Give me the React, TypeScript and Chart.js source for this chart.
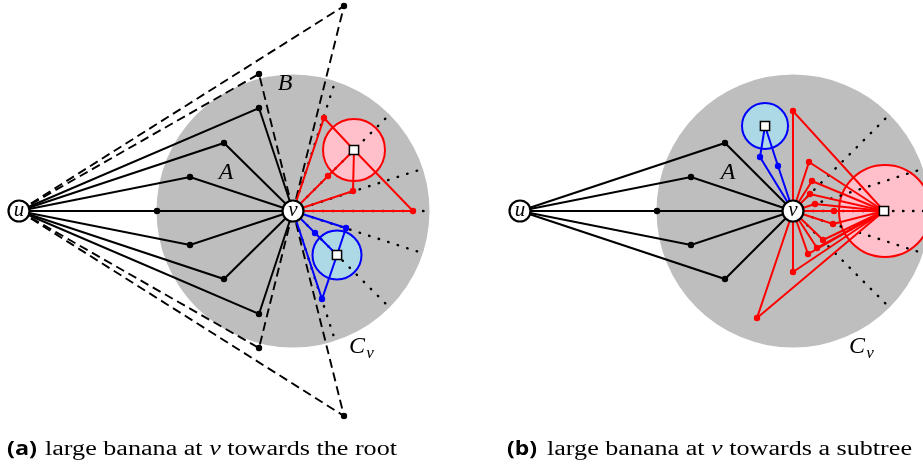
import React, { useEffect, useRef } from "react";
import { Chart, registerables } from "chart.js";

Chart.register(...registerables);

type P = [number, number];

const W = 923;
const H = 468;

// ---------- panel (a): large banana at v towards the root ----------
const aU: P = [19, 211];
const aV: P = [293, 211];
const aDiskR = 136.5;
const aTreeNodes: P[] = [[157, 211], [190, 177], [224, 143], [259, 108], [190, 245], [224, 279], [259, 314]];
const aDashedTips: P[] = [[259, 74], [344, 6], [259, 348], [344, 416]];
const aRayEnds: P[] = [[426, 211], [419, 170], [387, 117], [334, 85], [419, 252], [387, 305], [334, 337]];
const aRedSub: P = [354, 150];
const aRedR = 31;
const aRedNodes: P[] = [[324, 118], [328, 176], [353, 191], [413, 211]];
const aBlueSub: P = [337, 255];
const aBlueR = 24.5;
const aBlueNodes: P[] = [[315, 233], [346, 228], [322, 299]];

// ---------- panel (b): large banana at v towards a subtree ----------
const bU: P = [520, 211];
const bV: P = [793, 211];
const bDiskR = 136.5;
const bTreeNodes: P[] = [[657, 211], [691, 177], [725, 143], [691, 245], [725, 279]];
const bRayEnds: P[] = [[926, 211], [919, 170], [887, 117], [919, 252], [887, 305]];
const bRedSub: P = [884, 211];
const bRedCircleCenter: P = [885, 211];
const bRedR = 46;
const bRedNodes: P[] = [[793, 111], [809, 162], [812, 181], [810, 194], [815, 204], [834, 211], [833, 224], [823, 240], [817, 248], [808, 254], [793, 272], [757, 318]];
const bBlueSub: P = [765, 126];
const bBlueR = 23;
const bBlueNodes: P[] = [[760, 157], [778, 166]];

// ---------- labels ----------
const nodeLabels: { p: P; t: string }[] = [
  { p: aU, t: "u" }, { p: aV, t: "v" }, { p: bU, t: "u" }, { p: bV, t: "v" },
];
const setLabels: { p: P; t: string; sub?: string }[] = [
  { p: [226, 173], t: "A" },
  { p: [285, 84], t: "B" },
  { p: [357, 347], t: "C", sub: "v" },
  { p: [728, 173], t: "A" },
  { p: [857, 347], t: "C", sub: "v" },
];
const captionA = { tag: "(a)", before: "large banana at ", it: "v", after: " towards the root" };
const captionB = { tag: "(b)", before: "large banana at ", it: "v", after: " towards a subtree" };

const GREY = "#bebebe";
const RED = "#ff0000";
const BLUE = "#0000ff";

const pts = (l: P[]) => l.map(([x, y]) => ({ x, y }));

export default function App() {
  const ref = useRef<HTMLCanvasElement>(null);

  useEffect(() => {
    if (!ref.current) return;
    const ds: any[] = [];
    const line = (l: P[], color: string, width: number, dash: number[] = [], cap: CanvasLineCap = "butt") =>
      ds.push({
        data: pts(l), showLine: true, borderColor: color, borderWidth: width, borderDash: dash,
        borderCapStyle: cap, borderJoinStyle: "miter", pointRadius: 0, pointHoverRadius: 0, fill: false, clip: false, tension: 0,
      });
    const nodes = (l: P[], style: string, radius: number, bg: string, border: string, bw: number) =>
      ds.push({
        data: pts(l), showLine: false, pointStyle: style, pointRadius: radius, pointHoverRadius: radius,
        pointBackgroundColor: bg, pointBorderColor: border, pointBorderWidth: bw, backgroundColor: bg, borderColor: border, clip: false,
      });

    const DOT = [0.5, 9.5];
    const DASH = [9, 5];
    // dotted rays
    aRayEnds.forEach((e) => line([aV, e], "#000", 2.4, DOT, "round"));
    bRayEnds.forEach((e) => line([bV, e], "#000", 2.4, DOT, "round"));
    // dashed
    aDashedTips.forEach((t) => line([aU, t, aV], "#000", 1.9, DASH));
    // black tree
    aTreeNodes.forEach((n) => line([aU, n, aV], "#000", 2));
    bTreeNodes.forEach((n) => line([bU, n, bV], "#000", 2));
    // coloured
    aRedNodes.forEach((n) => line([aV, n, aRedSub], RED, 2));
    aBlueNodes.forEach((n) => line([aV, n, aBlueSub], BLUE, 2));
    bRedNodes.forEach((n) => line([bV, n, bRedSub], RED, 2));
    bBlueNodes.forEach((n) => line([bV, n, bBlueSub], BLUE, 2));
    // nodes
    nodes([...aTreeNodes, ...aDashedTips, ...bTreeNodes], "circle", 3.2, "#000", "#000", 0);
    nodes([...aRedNodes, ...bRedNodes], "circle", 3.2, RED, RED, 0);
    nodes([...aBlueNodes, ...bBlueNodes], "circle", 3.2, BLUE, BLUE, 0);
    nodes([aRedSub, aBlueSub, bRedSub, bBlueSub], "rect", 6.5, "#fff", "#000", 1.5);
    nodes([aU, aV, bU, bV], "circle", 10.5, "#fff", "#000", 2.2);

    const n = ds.length;
    ds.forEach((d, i) => (d.order = n - i));

    const disks: { c: P; r: number; fill: string; stroke?: string }[] = [
      { c: aV, r: aDiskR, fill: GREY },
      { c: bV, r: bDiskR, fill: GREY },
      { c: aRedSub, r: aRedR, fill: "#ffc0cb", stroke: RED },
      { c: aBlueSub, r: aBlueR, fill: "#add8e6", stroke: BLUE },
      { c: bRedCircleCenter, r: bRedR, fill: "#ffc0cb", stroke: RED },
      { c: bBlueSub, r: bBlueR, fill: "#add8e6", stroke: BLUE },
    ];

    const diagram = {
      id: "diagram",
      beforeDatasetsDraw(chart: any) {
        const { ctx, scales } = chart;
        const xs = scales.x, ys = scales.y;
        disks.forEach((d) => {
          const cx = xs.getPixelForValue(d.c[0]);
          const cy = ys.getPixelForValue(d.c[1]);
          const r = xs.getPixelForValue(d.c[0] + d.r) - cx;
          ctx.save();
          ctx.beginPath();
          ctx.arc(cx, cy, r, 0, Math.PI * 2);
          ctx.fillStyle = d.fill;
          ctx.fill();
          if (d.stroke) {
            ctx.strokeStyle = d.stroke;
            ctx.lineWidth = 2;
            ctx.stroke();
          }
          ctx.restore();
        });
      },
      afterDatasetsDraw(chart: any) {
        const { ctx, scales } = chart;
        const xs = scales.x, ys = scales.y;
        ctx.save();
        ctx.fillStyle = "#000";
        ctx.textAlign = "center";
        ctx.textBaseline = "middle";
        nodeLabels.forEach((l) => {
          ctx.font = 'italic 21px "Liberation Serif"';
          ctx.fillText(l.t, xs.getPixelForValue(l.p[0]), ys.getPixelForValue(l.p[1]) - 1);
        });
        setLabels.forEach((l) => {
          const x = xs.getPixelForValue(l.p[0]);
          const y = ys.getPixelForValue(l.p[1]);
          ctx.font = 'italic 24px "Liberation Serif"';
          ctx.fillText(l.t, x, y);
          if (l.sub) {
            ctx.font = 'italic 17px "Liberation Serif"';
            ctx.fillText(l.sub, x + 13, y + 7);
          }
        });
        ctx.restore();

        const caption = (c: typeof captionA, tagX: number, tagW: number, textX: number, textW: number, base: number) => {
          ctx.save();
          ctx.fillStyle = "#000";
          ctx.textAlign = "left";
          ctx.textBaseline = "alphabetic";
          ctx.font = 'bold 20px "Open Sans"';
          const tw = ctx.measureText(c.tag).width;
          ctx.translate(tagX, base);
          ctx.scale(tagW / tw, 1);
          ctx.fillText(c.tag, 0, 0);
          ctx.restore();

          const parts = [
            { t: c.before, f: '20px "Liberation Serif"' },
            { t: c.it, f: 'italic 20px "Liberation Serif"' },
            { t: c.after, f: '20px "Liberation Serif"' },
          ];
          ctx.save();
          ctx.fillStyle = "#000";
          ctx.textAlign = "left";
          ctx.textBaseline = "alphabetic";
          let total = 0;
          parts.forEach((p) => { ctx.font = p.f; total += ctx.measureText(p.t).width; });
          ctx.translate(textX, base);
          ctx.scale(textW / total, 1);
          let x = 0;
          parts.forEach((p) => { ctx.font = p.f; ctx.fillText(p.t, x, 0); x += ctx.measureText(p.t).width; });
          ctx.restore();
        };
        caption(captionA, 7, 30, 45, 352, 455);
        caption(captionB, 507, 30, 547, 365, 455);
      },
    };

    const chart = new Chart(ref.current, {
      type: "scatter",
      data: { datasets: ds },
      options: {
        animation: false,
        responsive: false,
        maintainAspectRatio: false,
        devicePixelRatio: 1,
        layout: { padding: 0, autoPadding: false },
        events: [],
        scales: {
          x: { type: "linear", min: 0, max: W, display: false },
          y: { type: "linear", min: 0, max: H, reverse: true, display: false },
        },
        plugins: { legend: { display: false }, tooltip: { enabled: false }, title: { display: false } },
      },
      plugins: [diagram],
    } as any);
    return () => chart.destroy();
  }, []);

  return (
    <div style={{ position: "absolute", left: 0, top: 0, width: W, height: H, background: "#fff" }}>
      <canvas ref={ref} width={W} height={H} style={{ display: "block" }} />
    </div>
  );
}
